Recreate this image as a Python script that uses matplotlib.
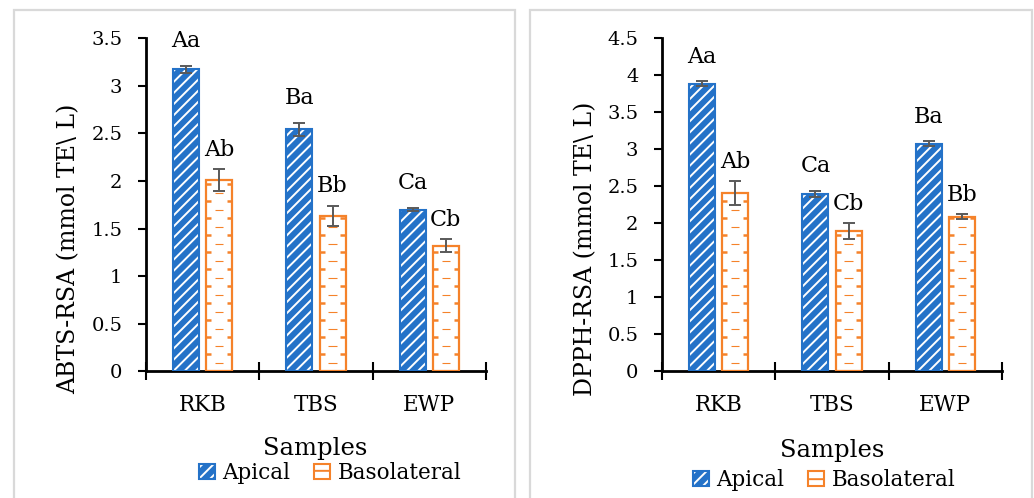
import matplotlib
matplotlib.use("Agg")
import matplotlib.pyplot as plt
import numpy as np
from matplotlib.patches import Patch, Rectangle
from matplotlib.legend_handler import HandlerTuple

# ---------------- data ----------------
categories = ["RKB", "TBS", "EWP"]
series_names = ["Apical", "Basolateral"]

abts_apical = [3.17, 2.54, 1.70]
abts_apical_err = [0.04, 0.065, 0.014]
abts_baso = [2.01, 1.635, 1.32]
abts_baso_err = [0.115, 0.105, 0.068]
abts_apical_lbl = ["Aa", "Ba", "Ca"]
abts_baso_lbl = ["Ab", "Bb", "Cb"]

dpph_apical = [3.88, 2.395, 3.07]
dpph_apical_err = [0.034, 0.043, 0.034]
dpph_baso = [2.41, 1.895, 2.085]
dpph_baso_err = [0.157, 0.108, 0.034]
dpph_apical_lbl = ["Aa", "Ca", "Ba"]
dpph_baso_lbl = ["Ab", "Cb", "Bb"]

abts_yticks = [0, 0.5, 1, 1.5, 2, 2.5, 3, 3.5]
dpph_yticks = [0, 0.5, 1, 1.5, 2, 2.5, 3, 3.5, 4, 4.5]

abts_ylabel = "ABTS-RSA (mmol TE\\ L)"
dpph_ylabel = "DPPH-RSA (mmol TE\\ L)"
xlabel = "Samples"

# ---------------- style ----------------
BLUE = "#2472C8"
ORANGE = "#F5822A"
ERRC = "#595959"
FONT = "DejaVu Serif"
plt.rcParams["font.family"] = [FONT]
plt.rcParams["hatch.linewidth"] = 1.4

W, H = 1034, 498
fig = plt.figure(figsize=(W / 100, H / 100), dpi=100)


def px(x0, y0, x1, y1):
    return [x0 / W, 1 - y1 / H, (x1 - x0) / W, (y1 - y0) / H]


# panel frames
for (x0, x1) in [(14, 515), (530, 1032)]:
    fig.add_artist(Rectangle((x0 / W, -0.05), (x1 - x0) / W, 1.05 - 10 / H,
                             transform=fig.transFigure, fill=False,
                             ec="#D9D9D9", lw=1.6, clip_on=False))

bw = 0.229
off = 0.146


def panel(rect, apical, aerr, baso, berr, albl, blbl, yticks, ylabel,
          ylabel_x, samples_xy, legend_xy):
    ax = fig.add_axes(px(*rect))
    x = np.arange(len(categories))
    ymax = yticks[-1]
    ax.set_xlim(-0.5, len(categories) - 0.5)
    ax.set_ylim(0, ymax)
    # apical: blue with white diagonal stripes
    ax.bar(x - off, apical, bw, facecolor=BLUE, edgecolor="white",
           hatch="///", linewidth=0, zorder=2)
    ax.bar(x - off, apical, bw, facecolor="none", edgecolor=BLUE,
           linewidth=1.5, zorder=3)
    # basolateral: white with orange dashes
    ax.bar(x + off, baso, bw, facecolor="white", edgecolor=ORANGE,
           linewidth=1.6, zorder=3)
    axh_px = (rect[3] - rect[1])
    step = 17.0 * ymax / axh_px
    for xc, v in zip(x + off, baso):
        l, r = xc - bw / 2, xc + bw / 2
        ys_thick = np.arange(step, v, step)
        ys_thin = np.arange(step / 2, v - step * 0.2, step)
        ax.hlines(ys_thick, l, l + 0.2 * bw, color=ORANGE, lw=1.8, zorder=3)
        ax.hlines(ys_thick, r - 0.2 * bw, r, color=ORANGE, lw=1.8, zorder=3)
        ax.hlines(ys_thin, xc - 0.16 * bw, xc + 0.16 * bw, color=ORANGE,
                  lw=0.8, zorder=3)
    ax.errorbar(x - off, apical, yerr=aerr, fmt="none", ecolor=ERRC,
                elinewidth=1.4, capsize=4.5, capthick=1.4, zorder=4)
    ax.errorbar(x + off, baso, yerr=berr, fmt="none", ecolor=ERRC,
                elinewidth=1.4, capsize=4.5, capthick=1.4, zorder=4)
    for xi, v, e, t in zip(x - off, apical, aerr, albl):
        ax.annotate(t, (xi, v + e), xytext=(0, 10), textcoords="offset points",
                    ha="center", va="bottom", fontsize=16)
    for xi, v, e, t in zip(x + off, baso, berr, blbl):
        ax.annotate(t, (xi, v + e), xytext=(0, 6), textcoords="offset points",
                    ha="center", va="bottom", fontsize=16)
    # axes styling
    for s in ["top", "right"]:
        ax.spines[s].set_visible(False)
    ax.spines["left"].set_linewidth(2.0)
    ax.spines["bottom"].set_linewidth(2.0)
    ax.set_yticks(yticks)
    ax.set_yticklabels([f"{t:g}" for t in yticks], fontsize=14)
    ax.tick_params(axis="y", direction="out", length=6, width=1.5, pad=11)
    ax.set_xticks(np.arange(-0.5, len(categories)), minor=False)
    ax.set_xticklabels([])
    ax.tick_params(axis="x", which="major", direction="inout", length=13,
                   width=1.5)
    ax.set_xticks(x, minor=True)
    ax.set_xticklabels(categories, minor=True, fontsize=15.5)
    ax.tick_params(axis="x", which="minor", length=0, pad=16)
    ax.set_ylabel(ylabel, fontsize=17)
    ax.yaxis.set_label_coords(ylabel_x, 0.5, transform=fig.transFigure)
    fig.text(samples_xy[0] / W, 1 - samples_xy[1] / H, xlabel, fontsize=17.5,
             ha="center", va="center")
    h1 = (Patch(facecolor=BLUE, edgecolor="white", hatch="///", lw=0),
          Patch(facecolor="none", edgecolor=BLUE, lw=1.5))
    h2 = (Patch(facecolor="white", edgecolor=ORANGE, hatch="--", lw=1.5),)
    fig.legend([h1, h2], series_names, handler_map={tuple: HandlerTuple(ndivide=1)},
               loc="center", bbox_to_anchor=(legend_xy[0] / W, 1 - legend_xy[1] / H),
               ncol=2, frameon=False, fontsize=15.5, handlelength=0.75,
               handleheight=0.75, handletextpad=0.35, columnspacing=1.1,
               borderpad=0, borderaxespad=0)
    return ax


plt.rcParams["hatch.color"] = ORANGE
panel((146, 38, 486, 371.5), abts_apical, abts_apical_err, abts_baso,
      abts_baso_err, abts_apical_lbl, abts_baso_lbl, abts_yticks, abts_ylabel,
      80 / W, (315, 448), (330, 473))
panel((662, 38, 1002, 371.5), dpph_apical, dpph_apical_err, dpph_baso,
      dpph_baso_err, dpph_apical_lbl, dpph_baso_lbl, dpph_yticks, dpph_ylabel,
      597 / W, (832, 450), (824, 480))

fig.savefig("out.png", dpi=100)
